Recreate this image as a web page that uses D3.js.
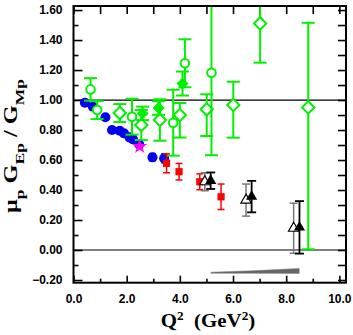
<!DOCTYPE html>
<html lang="en">
    <head>
        <meta charset="utf-8">
        <title>GEp / GMp ratio</title>
        <script type="text/javascript" src="https://cdnjs.cloudflare.com/ajax/libs/d3/7.8.5/d3.min.js"></script>
        <style>
          body { margin: 0; background: #fff; }
          .tick text { font-family: "Liberation Sans", Arial, sans-serif; font-weight: bold; font-size: 12px; }
        </style>
    </head>
    <body>
        <svg width="353" height="335"></svg>
        <script type="text/javascript">

          // blue filled circles
          var blueQ2 = [0.43, 0.73, 1.2, 1.45, 1.74, 1.9, 2.11, 2.24, 2.47, 2.97, 3.41];
          var blueR = [0.982, 0.955, 0.885, 0.80, 0.795, 0.778, 0.751, 0.738, 0.705, 0.618, 0.611];
          var blueErr = [0.015, 0.015, 0.015, 0.015, 0.015, 0.015, 0.02, 0.02, 0.02, 0.025, 0.03];

          // magenta star
          var starQ2 = [2.49];
          var starR = [0.69];

          // red squares
          var redQ2 = [3.5, 3.97, 4.75, 5.55];
          var redR = [0.578, 0.522, 0.455, 0.355];
          var redErr = [0.063, 0.055, 0.053, 0.085];

          // black filled triangles
          var triQ2 = [5.16, 6.7, 8.5];
          var triR = [0.462, 0.356, 0.151];
          var triErr = [0.055, 0.105, 0.175];

          // open triangles
          var otriQ2 = [4.94, 6.49, 8.28];
          var otriR = [0.455, 0.333, 0.145];
          var otriErr = [0.06, 0.107, 0.167];

          // green open circles
          var gcQ2 = [0.64, 0.89, 2.2, 3.75, 4.19, 5.19];
          var gcR = [1.071, 0.933, 0.889, 0.849, 1.245, 1.182];
          var gcErr = [0.075, 0.06, 0.12, 0.22, 0.16, 0.55];

          // green open diamonds
          var gdQ2 = [1.74, 2.55, 3.25, 4.0, 5.01, 6.01, 7.02, 8.83];
          var gdR = [0.913, 0.833, 0.867, 0.90, 0.938, 0.967, 1.511, 0.951];
          var gdErrLo = [0.06, 0.1, 0.138, 0.15, 0.178, 0.218, 0.262, 0.946];
          var gdErrHi = [0.06, 0.1, 0.138, 0.08, 0.1, 0.155, 0.38, 0.564];

          // green filled diamonds
          var gfQ2 = [2.6, 3.2, 4.1];
          var gfR = [0.911, 0.947, 1.11];
          var gfErr = [0.045, 0.045, 0.08];

          // systematic band
          var bandQ2 = [5.17, 6.7, 8.49];
          var bandLo = [-0.155, -0.155, -0.156];
          var bandHi = [-0.148, -0.139, -0.123];

          // tick values
          var xMajor = [0, 2, 4, 6, 8, 10];
          var xMinor = [1, 3, 5, 7, 9];
          var yMajor = [-0.2, 0, 0.2, 0.4, 0.6, 0.8, 1.0, 1.2, 1.4, 1.6];
          var yMinor = [-0.1, 0.1, 0.3, 0.5, 0.7, 0.9, 1.1, 1.3, 1.5];

          var svg = d3.select("svg"),
              margin = {top: 6, right: 7, bottom: 52.3, left: 73.5},
              width = +svg.attr("width") - margin.left - margin.right,
              height = +svg.attr("height") - margin.top - margin.bottom;

          var green = "#00f000";

          // scales
          var x = d3.scaleLinear()
              .domain([0, 10.25])
              .range([0, width]);

          var y = d3.scaleLinear()
              .domain([-0.218, 1.627])
              .range([height, 0]);

          var g = svg.append("g")
              .attr("transform", "translate(" + margin.left + "," + margin.top + ")");

          // left axis, ticks inside
          g.append("g")
              .call(d3.axisLeft(y).tickValues(yMajor).tickSize(-9).tickPadding(11).tickFormat(d3.format(".2f")));
          g.append("g")
              .call(d3.axisLeft(y).tickValues(yMinor).tickSize(-5).tickFormat(""));

          // right axis
          g.append("g")
              .attr("transform", "translate(" + width + ",0)")
              .call(d3.axisRight(y).tickValues(yMajor.concat(yMinor)).tickSize(-8).tickFormat(""));

          // bottom axis
          g.append("g")
              .attr("transform", "translate(0," + height + ")")
              .call(d3.axisBottom(x).tickValues(xMajor).tickSize(-7).tickPadding(12).tickFormat(d3.format(".1f")));
          g.append("g")
              .attr("transform", "translate(0," + height + ")")
              .call(d3.axisBottom(x).tickValues(xMinor).tickSize(-4).tickFormat(""));

          // top axis
          g.append("g")
              .call(d3.axisTop(x).tickValues(xMajor.concat(xMinor)).tickSize(-8).tickFormat(""));

          g.selectAll(".domain").remove();
          g.selectAll(".tick line").attr("stroke", "#000").attr("stroke-width", 1.6);

          // reference lines at 1 and 0
          g.selectAll(".ref")
            .data([0, 1])
            .enter()
              .append("line")
              .attr("x1", 0)
              .attr("x2", width)
              .attr("y1", function (d) { return y(d); })
              .attr("y2", function (d) { return y(d); })
              .attr("stroke", "#000")
              .attr("stroke-width", 1.2);

          // systematic band
          var bandData = bandQ2.map(function (d, i) { return {q: d, lo: bandLo[i], hi: bandHi[i]}; });
          g.append("path")
              .datum(bandData)
              .attr("fill", "#666")
              .attr("stroke", "#777")
              .attr("stroke-width", 0.5)
              .attr("d", d3.area()
                .x(function (d) { return x(d.q); })
                .y0(function (d) { return y(d.lo); })
                .y1(function (d) { return y(d.hi); }));

          // helper to build rows
          function rows(q, r, lo, hi) {
            return q.map(function (d, i) {
              return {q: d, r: r[i], lo: lo ? lo[i] : 0, hi: hi ? hi[i] : (lo ? lo[i] : 0)};
            });
          }

          // error bars with caps
          function errorBars(data, color, cap, sw) {
            var top = y.domain()[1];
            var eb = g.append("g");
            data.forEach(function (d) {
              var y1 = y(Math.min(d.r + d.hi, top)),
                  y0 = y(d.r - d.lo),
                  cx = x(d.q);
              eb.append("line").attr("x1", cx).attr("x2", cx).attr("y1", y0).attr("y2", y1)
                .attr("stroke", color).attr("stroke-width", sw);
              eb.append("line").attr("x1", cx - cap).attr("x2", cx + cap).attr("y1", y0).attr("y2", y0)
                .attr("stroke", color).attr("stroke-width", sw);
              eb.append("line").attr("x1", cx - cap).attr("x2", cx + cap).attr("y1", y1).attr("y2", y1)
                .attr("stroke", color).attr("stroke-width", sw);
            });
          }

          function symbols(data, type, size, fill, stroke, sw, rot) {
            g.append("g").selectAll("path")
              .data(data)
              .enter()
                .append("path")
                .attr("transform", function (d) {
                  return "translate(" + x(d.q) + "," + y(d.r) + ")" + (rot ? " rotate(" + rot + ")" : "");
                })
                .attr("d", d3.symbol().type(type).size(size))
                .attr("fill", fill)
                .attr("stroke", stroke)
                .attr("stroke-width", sw);
          }

          // blue points
          var blue = rows(blueQ2, blueR, blueErr);
          errorBars(blue, "#0000ee", 3, 1.5);
          symbols(blue, d3.symbolCircle, 80, "#0000ee", "none", 0);

          // green open diamonds
          var gd = rows(gdQ2, gdR, gdErrLo, gdErrHi);
          errorBars(gd, green, 6.5, 2);
          symbols(gd, d3.symbolSquare, 76, "#fff", green, 2, 45);

          // green open circles
          var gc = rows(gcQ2, gcR, gcErr);
          errorBars(gc, green, 6.5, 2);
          g.append("g").selectAll("circle")
            .data(gc)
            .enter()
              .append("circle")
              .attr("cx", function (d) { return x(d.q); })
              .attr("cy", function (d) { return y(d.r); })
              .attr("r", 4.3)
              .attr("fill", "#fff")
              .attr("stroke", green)
              .attr("stroke-width", 2);

          // green filled diamonds
          var gf = rows(gfQ2, gfR, gfErr);
          errorBars(gf, green, 6.5, 2);
          symbols(gf, d3.symbolSquare, 56, green, green, 1, 45);

          // red squares
          var red = rows(redQ2, redR, redErr);
          errorBars(red, "#ff0000", 3.5, 1.5);
          symbols(red, d3.symbolSquare, 52, "#ff0000", "none", 0);

          // magenta star
          symbols(rows(starQ2, starR), d3.symbolStar, 70, "#ff00ff", "none", 0);

          // open triangles
          var otri = rows(otriQ2, otriR, otriErr);
          errorBars(otri, "#777", 4, 1.5);
          symbols(otri, d3.symbolTriangle, 46, "#fff", "#000", 1.2);

          // filled triangles
          var tri = rows(triQ2, triR, triErr);
          errorBars(tri, "#000", 4.5, 1.8);
          symbols(tri, d3.symbolTriangle, 54, "#000", "none", 0);

          // frame
          g.append("rect")
              .attr("width", width)
              .attr("height", height)
              .attr("fill", "none")
              .attr("stroke", "#000")
              .attr("stroke-width", 2);

          // x axis label
          var xl = svg.append("text")
              .attr("transform", "translate(208,327) scale(1.1,1)")
              .attr("text-anchor", "middle")
              .attr("font-family", "Liberation Serif, Times New Roman, serif")
              .attr("font-weight", "bold")
              .attr("font-size", 19);
          xl.append("tspan").text("Q");
          xl.append("tspan").attr("dy", -7).attr("font-size", 12).text("2");
          xl.append("tspan").attr("dy", 7).text("\u00a0 (GeV");
          xl.append("tspan").attr("dy", -7).attr("font-size", 12).text("2");
          xl.append("tspan").attr("dy", 7).text(")");

          // y axis label
          var yl = svg.append("text")
              .attr("transform", "translate(17,146) rotate(-90) scale(1.35,1)")
              .attr("text-anchor", "middle")
              .attr("font-family", "Liberation Serif, Times New Roman, serif")
              .attr("font-weight", "bold")
              .attr("font-size", 18);
          yl.append("tspan").text("\u03bc");
          yl.append("tspan").attr("dy", 7).attr("font-size", 13).text("p");
          yl.append("tspan").attr("dy", -7).text("\u00a0G");
          yl.append("tspan").attr("dy", 7).attr("font-size", 13).text("Ep");
          yl.append("tspan").attr("dy", -7).text("\u00a0/\u00a0G");
          yl.append("tspan").attr("dy", 7).attr("font-size", 13).text("Mp");
        </script>
    </body>
</html>
